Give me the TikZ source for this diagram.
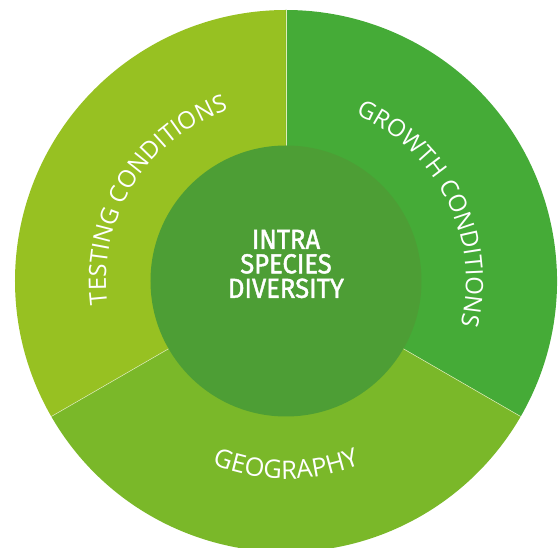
\documentclass[tikz,border=0pt]{standalone}
\usepackage{fontspec}
\setmainfont{Open Sans}
\newfontfamily\cfont{Fira Sans}[FakeBold=1.6]
\usetikzlibrary{decorations.text}
\definecolor{testc}{HTML}{97C122}
\definecolor{growc}{HTML}{45AB37}
\definecolor{geoc}{HTML}{7AB829}
\definecolor{centc}{HTML}{4D9E35}
\tikzset{
  divider/.style={draw=white!70!testc, line width=0.5pt},
  curvelabel/.style 2 args={decorate, decoration={text along path, text align=center,
      text color=white, text={|\fontsize{#2}{28}\selectfont|#1}}},
}
\begin{document}
\begin{tikzpicture}[x=1pt,y=1pt]
\useasboundingbox (-286,-267) rectangle (274,281);
% sectors
\fill[testc] (0,0) -- (90:271) arc[start angle=90,end angle=210,radius=271] -- cycle;
\fill[growc] (0,0) -- (-30:271) arc[start angle=-30,end angle=90,radius=271] -- cycle;
\fill[geoc] (0,0) -- (210:271) arc[start angle=210,end angle=330,radius=271] -- cycle;
\coordinate (t1) at (90:130); \coordinate (t2) at (90:271);
\coordinate (l1) at (210:130); \coordinate (l2) at (210:271);
\coordinate (r1) at (-30:130); \coordinate (r2) at (-30:271);
\draw[divider] (t1) -- (t2);
\draw[divider] (l1) -- (l2);
\draw[divider] (r1) -- (r2);
% core
\node[circle, fill=centc, minimum size=271pt, inner sep=0pt] (core) at (0,0) {};
\node[align=center, text=white, inner sep=0pt,
      font=\cfont\fontsize{27.5}{24.5}\selectfont] (corelabel) at (0,17)
      {\scalebox{0.93}[1]{INTRA}\\\scalebox{0.93}[1]{SPECIES}\\\scalebox{0.93}[1]{DIVERSITY}};
% curved labels
\path[curvelabel={TESTING CONDITIONS}{24}] (208:180) arc[start angle=208,end angle=88,radius=180];
\path[curvelabel={GROWTH CONDITIONS}{24}] (87:180) arc[start angle=87,end angle=-34,radius=180];
\path[curvelabel={GEOGRAPHY}{25.5}] (225:198) arc[start angle=225,end angle=315,radius=198];
\end{tikzpicture}
\end{document}
